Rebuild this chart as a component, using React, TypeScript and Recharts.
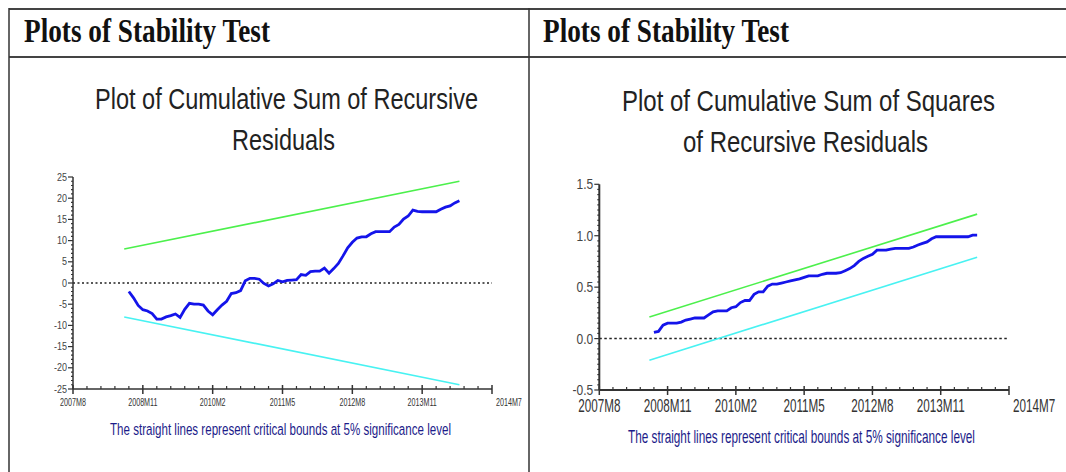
import { LineChart, Line, XAxis, YAxis, ReferenceLine } from "recharts";

const headerText = "Plots of Stability Test";
const noteText = "The straight lines represent critical bounds at 5% significance level";

// x axis counts months from 2007M8
const xLabels = ["2007M8", "2008M11", "2010M2", "2011M5", "2012M8", "2013M11", "2014M7"];
const boundMonths = [11, 83];
const firstMonth = 12;

const cusum = [
  -2.0, -3.5, -5.3, -6.3, -6.6, -7.2, -8.5, -8.5, -8.0, -7.7,
  -7.3, -8.1, -6.2, -4.8, -5.0, -5.0, -5.2, -6.6, -7.5, -6.3,
  -5.2, -4.3, -2.5, -2.3, -1.8, 0.5, 1.1, 1.1, 0.9, -0.1,
  -0.7, -0.2, 0.6, 0.3, 0.6, 0.7, 0.8, 2.0, 1.8, 2.7,
  2.8, 2.8, 3.5, 2.3, 3.4, 4.6, 6.4, 8.3, 9.6, 10.6,
  10.9, 10.9, 11.6, 12.1, 12.1, 12.1, 12.1, 13.2, 13.8, 15.1,
  15.8, 17.2, 16.9, 16.8, 16.8, 16.8, 16.8, 17.4, 17.9, 18.2,
  18.9, 19.4,
];
const cusumUpper = [8, 24];
const cusumLower = [-8, -24];
const cusumYLabels = [-25, -20, -15, -10, -5, 0, 5, 10, 15, 20, 25];

const cusumsq = [
  0.06, 0.07, 0.13, 0.15, 0.15, 0.15, 0.16, 0.18, 0.19, 0.2,
  0.2, 0.2, 0.23, 0.26, 0.27, 0.27, 0.27, 0.3, 0.31, 0.35,
  0.37, 0.37, 0.43, 0.455, 0.455, 0.51, 0.53, 0.53, 0.54, 0.55,
  0.56, 0.57, 0.58, 0.595, 0.61, 0.61, 0.61, 0.625, 0.635, 0.635,
  0.635, 0.64, 0.66, 0.68, 0.71, 0.75, 0.78, 0.8, 0.82, 0.86,
  0.86, 0.86, 0.87, 0.877, 0.877, 0.877, 0.877, 0.89, 0.91, 0.925,
  0.94, 0.97, 0.99, 0.99, 0.99, 0.99, 0.99, 0.99, 0.99, 0.99,
  1.005, 1.005,
];
const sqUpper = [0.21, 1.21];
const sqLower = [-0.21, 0.79];
const sqYLabels = ["-0.5", "0.0", "0.5", "1.0", "1.5"];

const toSeries = (vals: number[]) => vals.map((v, i) => ({ m: firstMonth + i, v }));
const toBound = (vals: number[]) => vals.map((v, i) => ({ m: boundMonths[i], v }));

const xTicks = Array.from({ length: 31 }, (_, i) => i * 3);
const cusumTicks = Array.from({ length: 51 }, (_, i) => i - 25);
const sqTicks = Array.from({ length: 41 }, (_, i) => Math.round((i - 10) * 5) / 100);

const SANS = "'Liberation Sans', Arial, sans-serif";
const SERIF = "'Liberation Serif', 'Times New Roman', serif";
const GREEN = "#4cf04c";
const CYAN = "#48f2f2";
const BLUE = "#1414ea";
const AXIS = "#333";

type TickCfg = { size: number; sx: number; dy: number; lastDx: number };

const makeXTick = (cfg: TickCfg) => (props: any) => {
  const { x, y, payload } = props;
  const v = payload.value as number;
  const major = v % 15 === 0;
  const last = v === 90;
  return (
    <g>
      {major ? (
        <line x1={x} x2={x} y1={y - 4} y2={y + 5} stroke={AXIS} strokeWidth={1.5} />
      ) : (
        <line x1={x} x2={x} y1={y - 3} y2={y} stroke={AXIS} strokeWidth={1.2} />
      )}
      {major && (
        <text
          transform={`translate(${last ? x + cfg.lastDx : x},${y + cfg.dy}) scale(${cfg.sx},1)`}
          textAnchor={last ? "start" : "middle"}
          fontSize={cfg.size}
          fontFamily={SANS}
          fill="#333"
        >
          {xLabels[v / 15]}
        </text>
      )}
    </g>
  );
};

const makeYTick = (cfg: TickCfg, isMajor: (v: number) => string | null) => (props: any) => {
  const { x, y, payload } = props;
  const label = isMajor(payload.value as number);
  return (
    <g>
      <line x1={x - (label ? 5 : 2)} x2={x} y1={y} y2={y} stroke={AXIS} strokeWidth={1.2} />
      {label && (
        <text
          transform={`translate(${x - 6},${y + cfg.dy}) scale(${cfg.sx},1)`}
          textAnchor="end"
          fontSize={cfg.size}
          fontFamily={SANS}
          fill="#444"
        >
          {label}
        </text>
      )}
    </g>
  );
};

const cusumYLabel = (v: number) => (cusumYLabels.includes(v) ? String(v) : null);
const sqYLabel = (v: number) => {
  const idx = sqYLabels.findIndex((s) => Math.abs(parseFloat(s) - v) < 1e-6);
  return idx >= 0 ? sqYLabels[idx] : null;
};

// text drawn at a smaller size and stretched up, fitted to a measured width
const Squeezed = ({ x, y, len, size, sy = 1.3, family, fill, weight, children }: any) => (
  <text
    transform={`translate(${x},${y}) scale(1,${sy})`}
    textLength={len}
    lengthAdjust="spacingAndGlyphs"
    fontSize={size / sy}
    fontFamily={family}
    fill={fill}
    fontWeight={weight}
  >
    {children}
  </text>
);

const Frame = () => (
  <svg width={1066} height={472} style={{ position: "absolute", left: 0, top: 0 }}>
    <line x1={9} x2={1066} y1={9} y2={9} stroke="#444" strokeWidth={2} />
    <line x1={9} x2={1066} y1={57} y2={57} stroke="#444" strokeWidth={2} />
    <line x1={9} x2={9} y1={8} y2={472} stroke="#333" strokeWidth={1.5} />
    <line x1={529} x2={529} y1={8} y2={472} stroke="#333" strokeWidth={1.5} />
    <Squeezed x={24} y={42} len={246} size={34} sy={1.35} family={SERIF} fill="#111" weight="bold">
      {headerText}
    </Squeezed>
    <Squeezed x={543} y={42} len={246} size={34} sy={1.35} family={SERIF} fill="#111" weight="bold">
      {headerText}
    </Squeezed>
    <Squeezed x={95} y={109} len={383} size={30} family={SANS} fill="#222">
      Plot of Cumulative Sum of Recursive
    </Squeezed>
    <Squeezed x={232} y={150} len={103} size={30} family={SANS} fill="#222">
      Residuals
    </Squeezed>
    <Squeezed x={622} y={111} len={373} size={30} family={SANS} fill="#222">
      Plot of Cumulative Sum of Squares
    </Squeezed>
    <Squeezed x={683} y={152} len={245} size={30} family={SANS} fill="#222">
      of Recursive Residuals
    </Squeezed>
    <Squeezed x={110} y={435} len={341} size={17} family={SANS} fill="#1c1c8a">
      {noteText}
    </Squeezed>
    <Squeezed x={628} y={443} len={347} size={19} family={SANS} fill="#1c1c8a">
      {noteText}
    </Squeezed>
  </svg>
);

const leftX: TickCfg = { size: 11, sx: 0.65, dy: 17, lastDx: 4 };
const leftY: TickCfg = { size: 10, sx: 0.9, dy: 3.5, lastDx: 0 };
const rightX: TickCfg = { size: 18, sx: 0.65, dy: 22, lastDx: 4 };
const rightY: TickCfg = { size: 15, sx: 0.8, dy: 5, lastDx: 0 };

const CusumChart = () => (
  <div style={{ position: "absolute", left: 0, top: 150 }}>
    <LineChart width={530} height={290} margin={{ top: 27, right: 38, bottom: 11, left: 23 }}>
      <XAxis
        dataKey="m"
        type="number"
        domain={[0, 90]}
        ticks={xTicks}
        interval={0}
        tickSize={0}
        tickMargin={0}
        tickLine={false}
        axisLine={{ stroke: AXIS, strokeWidth: 1.5 }}
        height={40}
        tick={makeXTick(leftX)}
      />
      <YAxis
        type="number"
        domain={[-25, 25]}
        ticks={cusumTicks}
        interval={0}
        tickSize={0}
        tickMargin={0}
        tickLine={false}
        axisLine={{ stroke: AXIS, strokeWidth: 1.5 }}
        width={50}
        tick={makeYTick(leftY, cusumYLabel)}
      />
      <ReferenceLine y={0} stroke="#222" strokeDasharray="2 2.5" strokeWidth={1.5} />
      <Line data={toBound(cusumUpper)} dataKey="v" stroke={GREEN} strokeWidth={1.6} dot={false} isAnimationActive={false} />
      <Line data={toBound(cusumLower)} dataKey="v" stroke={CYAN} strokeWidth={1.6} dot={false} isAnimationActive={false} />
      <Line data={toSeries(cusum)} dataKey="v" stroke={BLUE} strokeWidth={2.8} dot={false} isAnimationActive={false} />
    </LineChart>
  </div>
);

const SquaresChart = () => (
  <div style={{ position: "absolute", left: 530, top: 150 }}>
    <LineChart width={536} height={300} margin={{ top: 34.3, right: 57, bottom: 20, left: 19.3 }}>
      <XAxis
        dataKey="m"
        type="number"
        domain={[0, 90]}
        ticks={xTicks}
        interval={0}
        tickSize={0}
        tickMargin={0}
        tickLine={false}
        axisLine={{ stroke: AXIS, strokeWidth: 2 }}
        height={40}
        tick={makeXTick(rightX)}
      />
      <YAxis
        type="number"
        domain={[-0.5, 1.5]}
        ticks={sqTicks}
        interval={0}
        tickSize={0}
        tickMargin={0}
        tickLine={false}
        axisLine={{ stroke: AXIS, strokeWidth: 2 }}
        width={50}
        tick={makeYTick(rightY, sqYLabel)}
      />
      <ReferenceLine y={0} stroke="#222" strokeDasharray="2.5 2.5" strokeWidth={1.5} />
      <Line data={toBound(sqUpper)} dataKey="v" stroke={GREEN} strokeWidth={1.6} dot={false} isAnimationActive={false} />
      <Line data={toBound(sqLower)} dataKey="v" stroke={CYAN} strokeWidth={1.6} dot={false} isAnimationActive={false} />
      <Line data={toSeries(cusumsq)} dataKey="v" stroke={BLUE} strokeWidth={2.8} dot={false} isAnimationActive={false} />
    </LineChart>
  </div>
);

export default function App() {
  return (
    <div
      style={{
        position: "absolute",
        left: 0,
        top: 0,
        width: 1066,
        height: 472,
        background: "#fff",
        overflow: "hidden",
      }}
    >
      <Frame />
      <CusumChart />
      <SquaresChart />
    </div>
  );
}
